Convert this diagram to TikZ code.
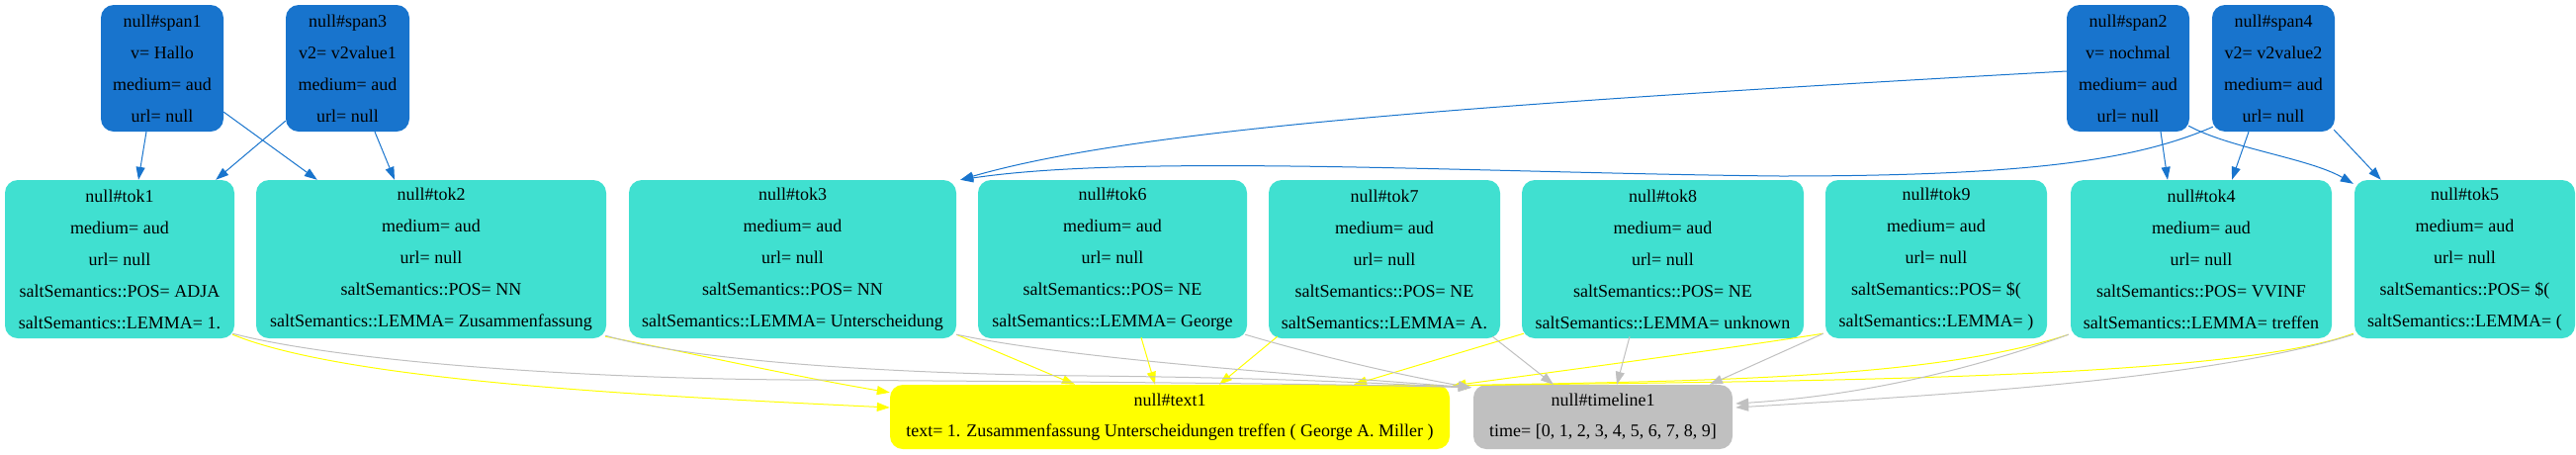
\documentclass[tikz,border=0pt]{standalone}
\usepackage{fontspec}
\setmainfont{Liberation Serif}
\usetikzlibrary{arrows.meta}
\definecolor{spanblue}{RGB}{24,116,205}
\definecolor{tokcyan}{RGB}{64,224,208}
\definecolor{edgegray}{RGB}{192,192,192}
\definecolor{textyellow}{RGB}{255,255,0}
\begin{document}
\begin{tikzpicture}[x=1pt,y=-1pt,
  box/.style={rounded corners=13pt, inner sep=0pt, align=center, text=black, font=\fontsize{18}{32}\selectfont},
  spanbox/.style={box, fill=spanblue, minimum height=128pt},
  tokbox/.style={box, fill=tokcyan, minimum height=160pt},
  textbox/.style={box, fill=textyellow, minimum height=65pt, font=\fontsize{18}{31}\selectfont},
  timebox/.style={box, fill=edgegray, minimum height=65pt, font=\fontsize{18}{31}\selectfont},
  conn/.style={line width=1pt, -{Triangle[length=13pt,width=9pt]}},
  blueconn/.style={conn, color=spanblue},
  yellowconn/.style={conn, color=textyellow},
  grayconn/.style={conn, color=edgegray}]
\useasboundingbox (0,0) rectangle (2605,459);
% span row
\node[spanbox, minimum width=124pt] (span1) at (164,69) {null\#span1\\v= Hallo\\medium= aud\\url= null};
\node[spanbox, minimum width=125pt] (span3) at (351.5,69) {null\#span3\\v2= v2value1\\medium= aud\\url= null};
\node[spanbox, minimum width=124pt] (span2) at (2152,69) {null\#span2\\v= nochmal\\medium= aud\\url= null};
\node[spanbox, minimum width=124pt] (span4) at (2299,69) {null\#span4\\v2= v2value2\\medium= aud\\url= null};
% token row
\node[tokbox, minimum width=232pt] (tok1) at (121,262) {null\#tok1\\medium= aud\\url= null\\saltSemantics::POS= ADJA\\saltSemantics::LEMMA= 1.};
\node[tokbox, minimum width=354pt] (tok2) at (436,262) {null\#tok2\\medium= aud\\url= null\\saltSemantics::POS= NN\\saltSemantics::LEMMA= Zusammenfassung};
\node[tokbox, minimum width=331pt] (tok3) at (801.5,262) {null\#tok3\\medium= aud\\url= null\\saltSemantics::POS= NN\\saltSemantics::LEMMA= Unterscheidung};
\node[tokbox, minimum width=272pt] (tok6) at (1125,262) {null\#tok6\\medium= aud\\url= null\\saltSemantics::POS= NE\\saltSemantics::LEMMA= George};
\node[tokbox, minimum width=234pt] (tok7) at (1400,262) {null\#tok7\\medium= aud\\url= null\\saltSemantics::POS= NE\\saltSemantics::LEMMA= A.};
\node[tokbox, minimum width=285pt] (tok8) at (1681.5,262) {null\#tok8\\medium= aud\\url= null\\saltSemantics::POS= NE\\saltSemantics::LEMMA= unknown};
\node[tokbox, minimum width=224pt] (tok9) at (1958,262) {null\#tok9\\medium= aud\\url= null\\saltSemantics::POS= \$(\\saltSemantics::LEMMA= )};
\node[tokbox, minimum width=264pt] (tok4) at (2226,262) {null\#tok4\\medium= aud\\url= null\\saltSemantics::POS= VVINF\\saltSemantics::LEMMA= treffen};
\node[tokbox, minimum width=223pt] (tok5) at (2492.5,262) {null\#tok5\\medium= aud\\url= null\\saltSemantics::POS= \$(\\saltSemantics::LEMMA= (};
% bottom row
\node[textbox, minimum width=566pt] (text1) at (1183,421.5) {null\#text1\\text= 1. Zusammenfassung Unterscheidungen treffen ( George A. Miller )};
\node[timebox, minimum width=262pt] (timeline1) at (1621,421.5) {null\#timeline1\\time= [0, 1, 2, 3, 4, 5, 6, 7, 8, 9]};
% span -> token edges
\draw[blueconn] ([shift={(-16,0)}]span1.south) -- ([shift={(19,0)}]tok1.north);
\draw[blueconn] ([shift={(0,-20)}]span1.south east) -- ([shift={(62,0)}]tok2.north west);
\draw[blueconn] ([shift={(0,-11)}]span3.south west) -- ([shift={(-19,0)}]tok1.north east);
\draw[blueconn] ([shift={(27.5,0)}]span3.south) -- ([shift={(-37,0)}]tok2.north);
\draw[blueconn] ([shift={(0,3)}]span2.west) .. controls (1500,105) and (1150,130) .. ([shift={(4,0)}]tok3.north east);
\draw[blueconn] ([shift={(1,-5)}]span4.south west) .. controls (2160,162) and (2050,178) .. (1800,178) .. controls (1500,175) and (1150,155) .. ([shift={(4,0)}]tok3.north east);
\draw[blueconn] ([shift={(33,0)}]span2.south) -- ([shift={(-34,0)}]tok4.north);
\draw[blueconn] ([shift={(-1,-6)}]span2.south east) .. controls (2255,150) and (2335,160) .. ([shift={(-1,4)}]tok5.north west);
\draw[blueconn] ([shift={(-25,0)}]span4.south) -- ([shift={(31,0)}]tok4.north);
\draw[blueconn] ([shift={(-1,-2)}]span4.south east) -- ([shift={(27,0)}]tok5.north west);
% token -> text edges
\draw[yellowconn] ([shift={(-2,-4)}]tok1.south east) .. controls (350,385) and (650,400) .. ([shift={(0,-9.5)}]text1.west);
\draw[yellowconn] ([shift={(-1,-2)}]tok2.south east) .. controls (690,355) and (800,380) .. ([shift={(0,8)}]text1.north west);
\draw[yellowconn] ([shift={(0,-4)}]tok3.south east) -- ([shift={(-96,0)}]text1.north);
\draw[yellowconn] ([shift={(29,-1)}]tok6.south) -- ([shift={(-15,0)}]text1.north);
\draw[yellowconn] ([shift={(9,-2)}]tok7.south west) -- ([shift={(50,0)}]text1.north);
\draw[yellowconn] ([shift={(2,-5)}]tok8.south west) -- ([shift={(186,0)}]text1.north);
\draw[yellowconn] ([shift={(-2,-5)}]tok9.south west) .. controls (1750,352) and (1580,375) .. ([shift={(3,1)}]text1.north east);
\draw[yellowconn] ([shift={(-2,-4)}]tok4.south west) .. controls (1950,385) and (1700,385) .. ([shift={(3,1)}]text1.north east);
\draw[yellowconn] ([shift={(-1,-5)}]tok5.south west) .. controls (2250,385) and (1800,385) .. ([shift={(3,1)}]text1.north east);
% token -> timeline edges
\draw[grayconn] ([shift={(-2,-5)}]tok1.south east) .. controls (330,362) and (550,382) .. (800,384) .. controls (1100,386) and (1350,388) .. ([shift={(-2,3)}]timeline1.north west);
\draw[grayconn] ([shift={(-1,-3)}]tok2.south east) .. controls (700,365) and (900,378) .. (1100,380) .. controls (1300,382) and (1400,388) .. ([shift={(-2,3)}]timeline1.north west);
\draw[grayconn] ([shift={(0,-4)}]tok3.south east) .. controls (1080,362) and (1300,378) .. ([shift={(-2,3)}]timeline1.north west);
\draw[grayconn] ([shift={(-2,-4)}]tok6.south east) .. controls (1340,362) and (1420,380) .. ([shift={(-2,3)}]timeline1.north west);
\draw[grayconn] ([shift={(-8,-2)}]tok7.south east) -- ([shift={(-50,0)}]timeline1.north);
\draw[grayconn] ([shift={(-33.5,-2)}]tok8.south) -- ([shift={(14,0)}]timeline1.north);
\draw[grayconn] ([shift={(-2,-5)}]tok9.south west) -- ([shift={(108,0)}]timeline1.north);
\draw[grayconn] ([shift={(-2,-4)}]tok4.south west) .. controls (1990,375) and (1880,400) .. ([shift={(3,-13.5)}]timeline1.east);
\draw[grayconn] ([shift={(-1,-4)}]tok5.south west) .. controls (2230,385) and (1950,400) .. ([shift={(3,-9.5)}]timeline1.east);
\end{tikzpicture}
\end{document}
